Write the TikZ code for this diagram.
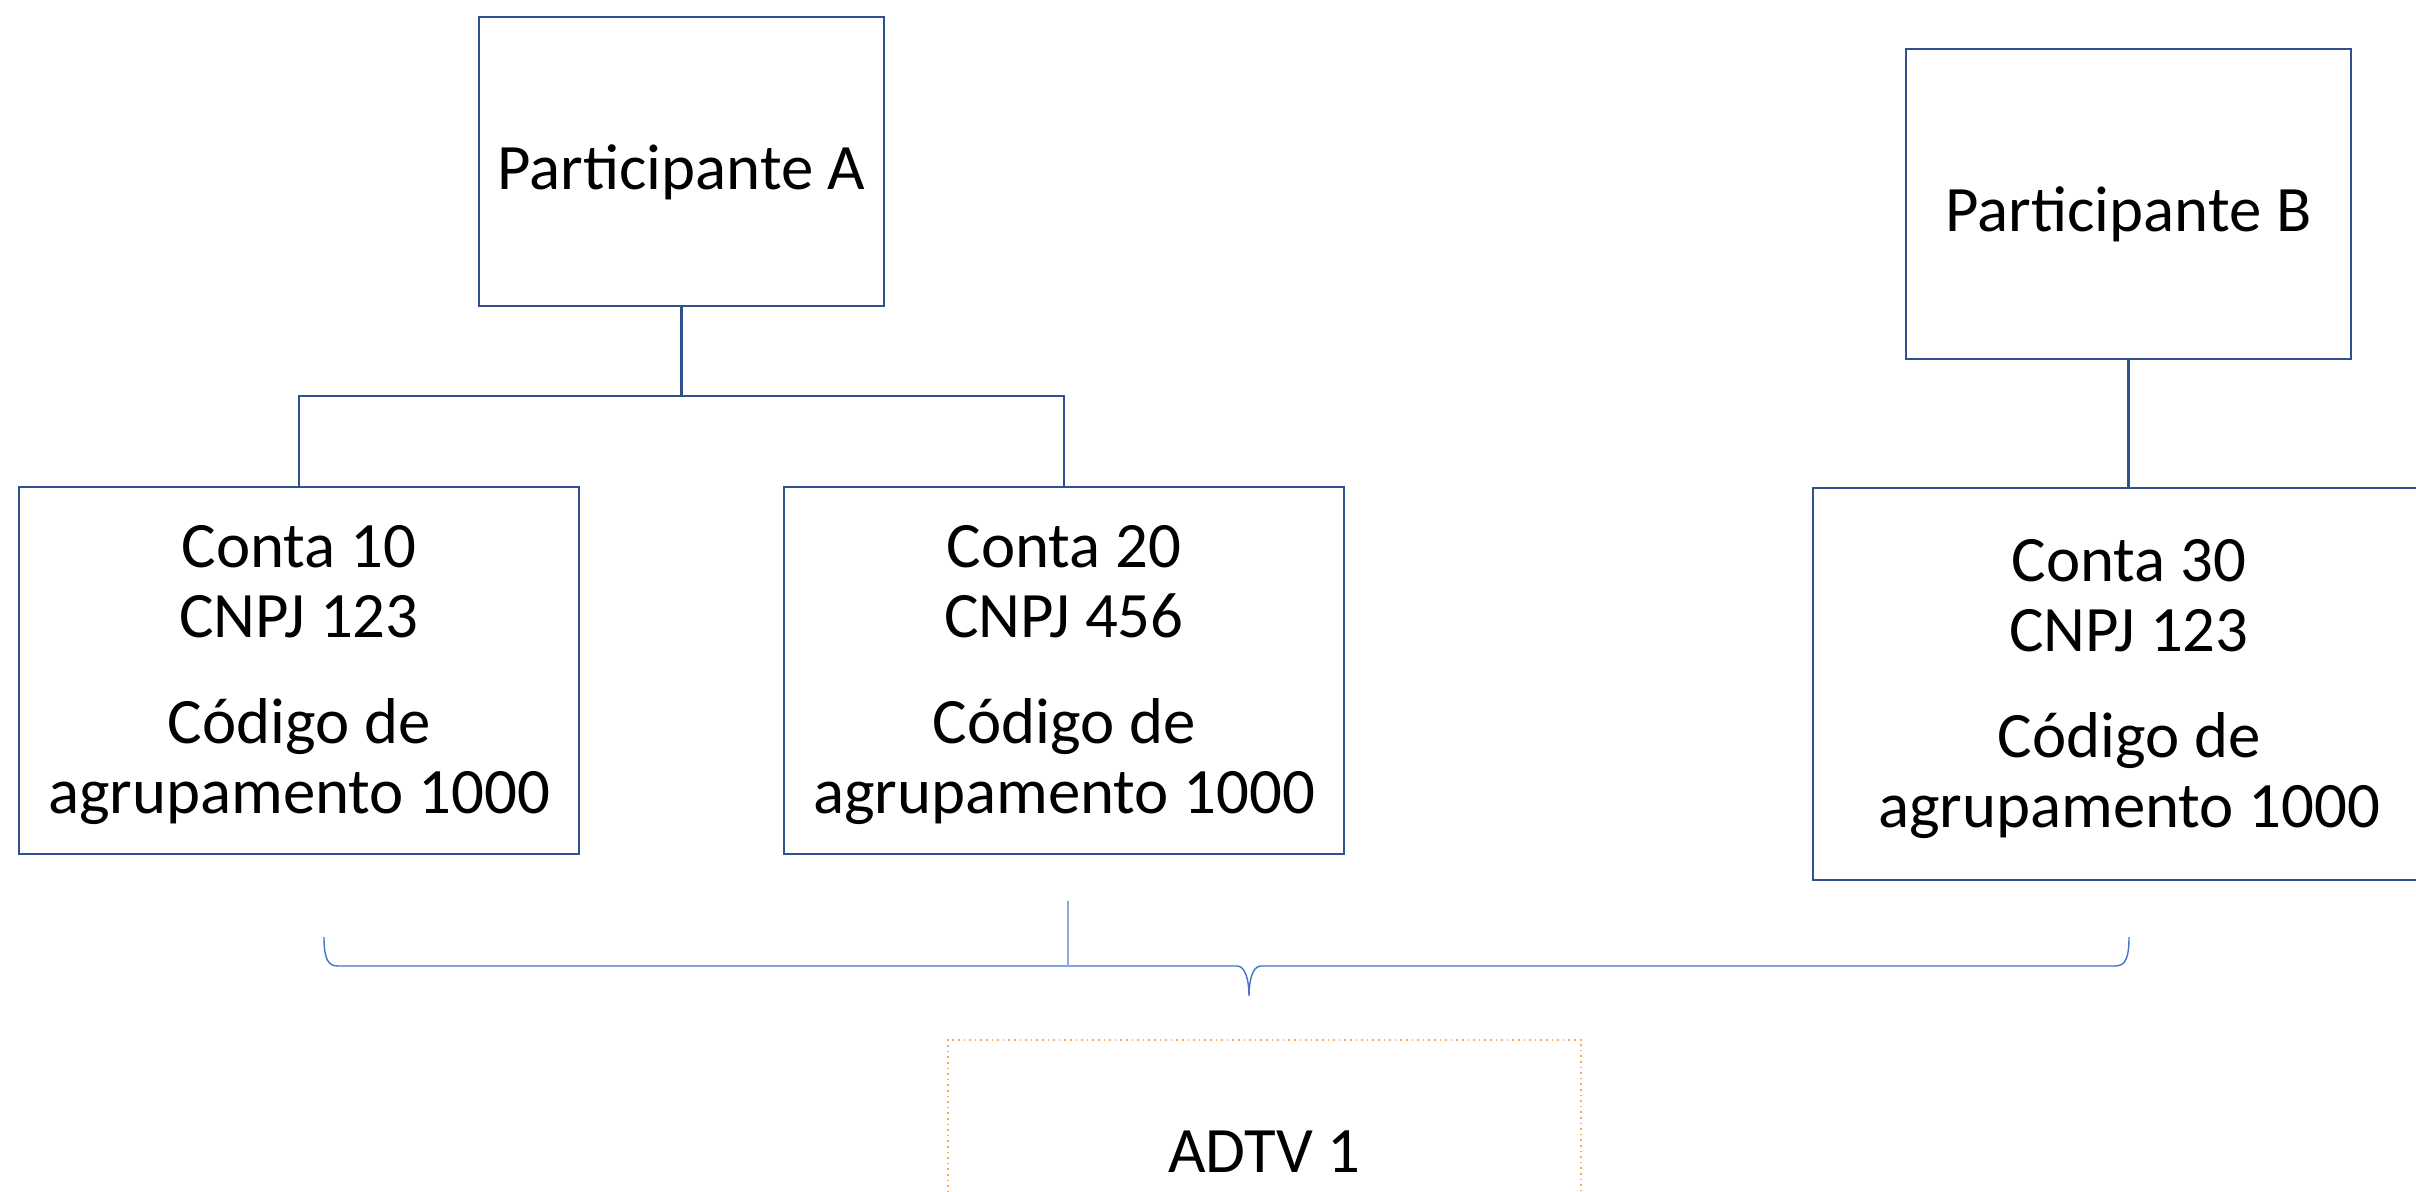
\documentclass[tikz,border=0pt]{standalone}
\usepackage{fontspec}
\setmainfont{Carlito}
\definecolor{azul}{RGB}{47,82,143}
\definecolor{azulclaro}{RGB}{68,114,196}
\definecolor{azulpalido}{RGB}{143,170,220}
\definecolor{laranja}{RGB}{242,170,100}

\begin{document}
\begin{tikzpicture}[x=0.5pt,y=-0.5pt,
    caixa/.style={draw=azul,line width=1.1pt,align=center,inner sep=0pt,
      font=\fontsize{32.4}{35}\selectfont},
    liga/.style={draw=azul,line width=1.1pt},
    chave/.style={draw=azulclaro,line width=0.7pt},
    adtv/.style={draw=laranja,dotted,line width=0.8pt,inner sep=0pt,
      font=\fontsize{32.4}{35}\selectfont}]
      \path[use as bounding box,clip] (0,0) rectangle (2416,1192);
      \node[caixa,minimum width=202.5pt,minimum height=144.5pt] (pA) at (681.5,161.5)
        {\rule{0pt}{33pt}Participante A};
      \node[caixa,minimum width=222.5pt,minimum height=155pt] (pB) at (2128.5,204)
        {\rule{0pt}{33pt}Participante B};
      \foreach \n/\x/\c/\j in {c10/299/10/123,c20/1064/20/456} {%
        \node[caixa,minimum width=280pt,minimum height=183.5pt] (\n) at (\x,670.5)
          {\rule{0pt}{26pt}Conta \c\\CNPJ \j\\[18pt]Código de\\agrupamento 1000};
      }
      \node[caixa,minimum width=316pt,minimum height=196pt] (c30) at (2129,684)
          {\rule{0pt}{26pt}Conta 30\\CNPJ 123\\[18pt]Código de\\agrupamento 1000};
      \node[adtv,minimum width=316.5pt,minimum height=112pt] (adtv) at (1264.5,1152) {ADTV 1};
      \coordinate (nA) at (681.5,396);
      \draw[liga] (pA.south) -- (nA);
      \draw[liga] (c10.north) |- (nA) -| (c20.north);
      \draw[liga] (pB.south) -- (pB.south |- c30.north);
      \coordinate (chE) at (324,937);
      \coordinate (chD) at (2129,937);
      \coordinate (chP) at (1249,996);
      \draw[chave] (chE) .. controls +(0,22) and +(-10,0) .. (338,966) -- (1237,966)
        .. controls +(9,0) and +(0,-14) .. (chP)
        .. controls +(0,-14) and +(-9,0) .. (1261,966) -- (2115,966)
        .. controls +(10,0) and +(0,22) .. (chD);
      \coordinate (vT) at (1068,901);
      \coordinate (vB) at (1068,966);
      \draw[azulpalido,line width=1pt] (vT) -- (vB);
    \end{tikzpicture}
\end{document}
